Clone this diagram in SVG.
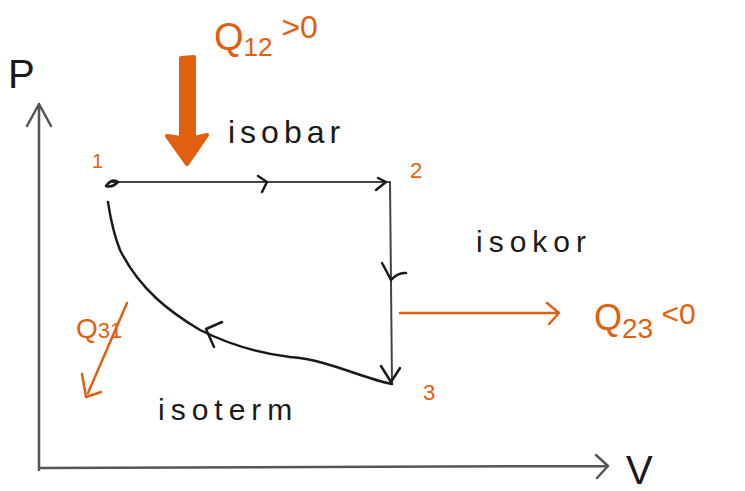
<svg xmlns="http://www.w3.org/2000/svg" width="745" height="491" viewBox="0 0 745 491">
<style>
.ax{stroke:#555;stroke-width:2.5;fill:none;stroke-linecap:round;stroke-linejoin:round}
.bk{stroke:#1a1a1a;stroke-width:2.5;fill:none;stroke-linecap:round;stroke-linejoin:round}
.ln{stroke:#444;stroke-width:2;fill:none;stroke-linecap:round;stroke-linejoin:round}
.or{stroke:#E0600F;stroke-width:2.5;fill:none;stroke-linecap:round;stroke-linejoin:round}
.ot{fill:#E0600F;font-family:"Liberation Sans",Arial,sans-serif}
.kt{fill:#1a1a1a;font-family:"Liberation Sans",Arial,sans-serif}
</style>
<rect width="745" height="491" fill="#fff"/>
<g id="axes">
<path class="ax" d="M39,470 L39,104 M27,126 L39,104 L51,126"/>
<path class="ax" d="M39,468 L608,466 M596,455 L608,466 L597,478"/>
<text class="kt" x="8" y="88" font-size="40" fill="#444">P</text>
<text class="kt" x="626" y="484" font-size="40" fill="#444">V</text>
</g>
<g id="connectors">
<path class="ln" d="M112,182 L390,182"/>
<path class="bk" d="M258,176 L267,182 L262,192"/>
<path class="bk" d="M376,190 L386,182 L378,178"/>
<path class="ln" d="M390,182 L392,384"/>
<path class="bk" d="M382,263 Q387,272 391,280 Q398,272 406,273"/>
<path class="bk" d="M381,366 L391,382 L400,368"/>
<path class="bk" d="M392,384 C360,378 330,360 290,357 C250,352 220,340 200,330 C170,312 140,290 120,250 C112,230 110,215 108,202"/>
<path class="bk" d="M222,322 L206,329 L214,347"/>
<path class="bk" d="M106,186 Q112,178 118,182 Q112,188 106,186"/>
</g>
<g id="q12">
<path d="M181,58 L194,57 L194,138 L207,135 L187,164 L167,136 L181,138 Z" fill="#E0600F" stroke="#E0600F" stroke-width="4" stroke-linejoin="round"/>
<text class="ot" x="214" y="50" font-size="38">Q<tspan font-size="26" dy="6">12</tspan><tspan dy="-18" font-size="32"> &gt;0</tspan></text>
</g>
<g id="q23">
<path class="or" d="M400,313 L558,313 M547,303 L559,313 L549,324"/>
<text class="ot" x="594" y="330" font-size="36">Q<tspan font-size="28" dy="8">23</tspan><tspan dy="-14" font-size="30"> &lt;0</tspan></text>
</g>
<g id="q31">
<path class="or" d="M127,303 L88,393 M82,374 L86,397 L101,392"/>
<text class="ot" x="76" y="338" font-size="28">Q<tspan font-size="22">31</tspan></text>
</g>
<g id="labels">
<text class="ot" x="92" y="168" font-size="20">1</text>
<text class="ot" x="410" y="178" font-size="22">2</text>
<text class="ot" x="423" y="400" font-size="22">3</text>
<text class="kt" x="228" y="143" font-size="32" letter-spacing="5">isobar</text>
<text class="kt" x="476" y="252" font-size="30" letter-spacing="6">isokor</text>
<text class="kt" x="158" y="420" font-size="30" letter-spacing="6">isoterm</text>
</g>
</svg>
